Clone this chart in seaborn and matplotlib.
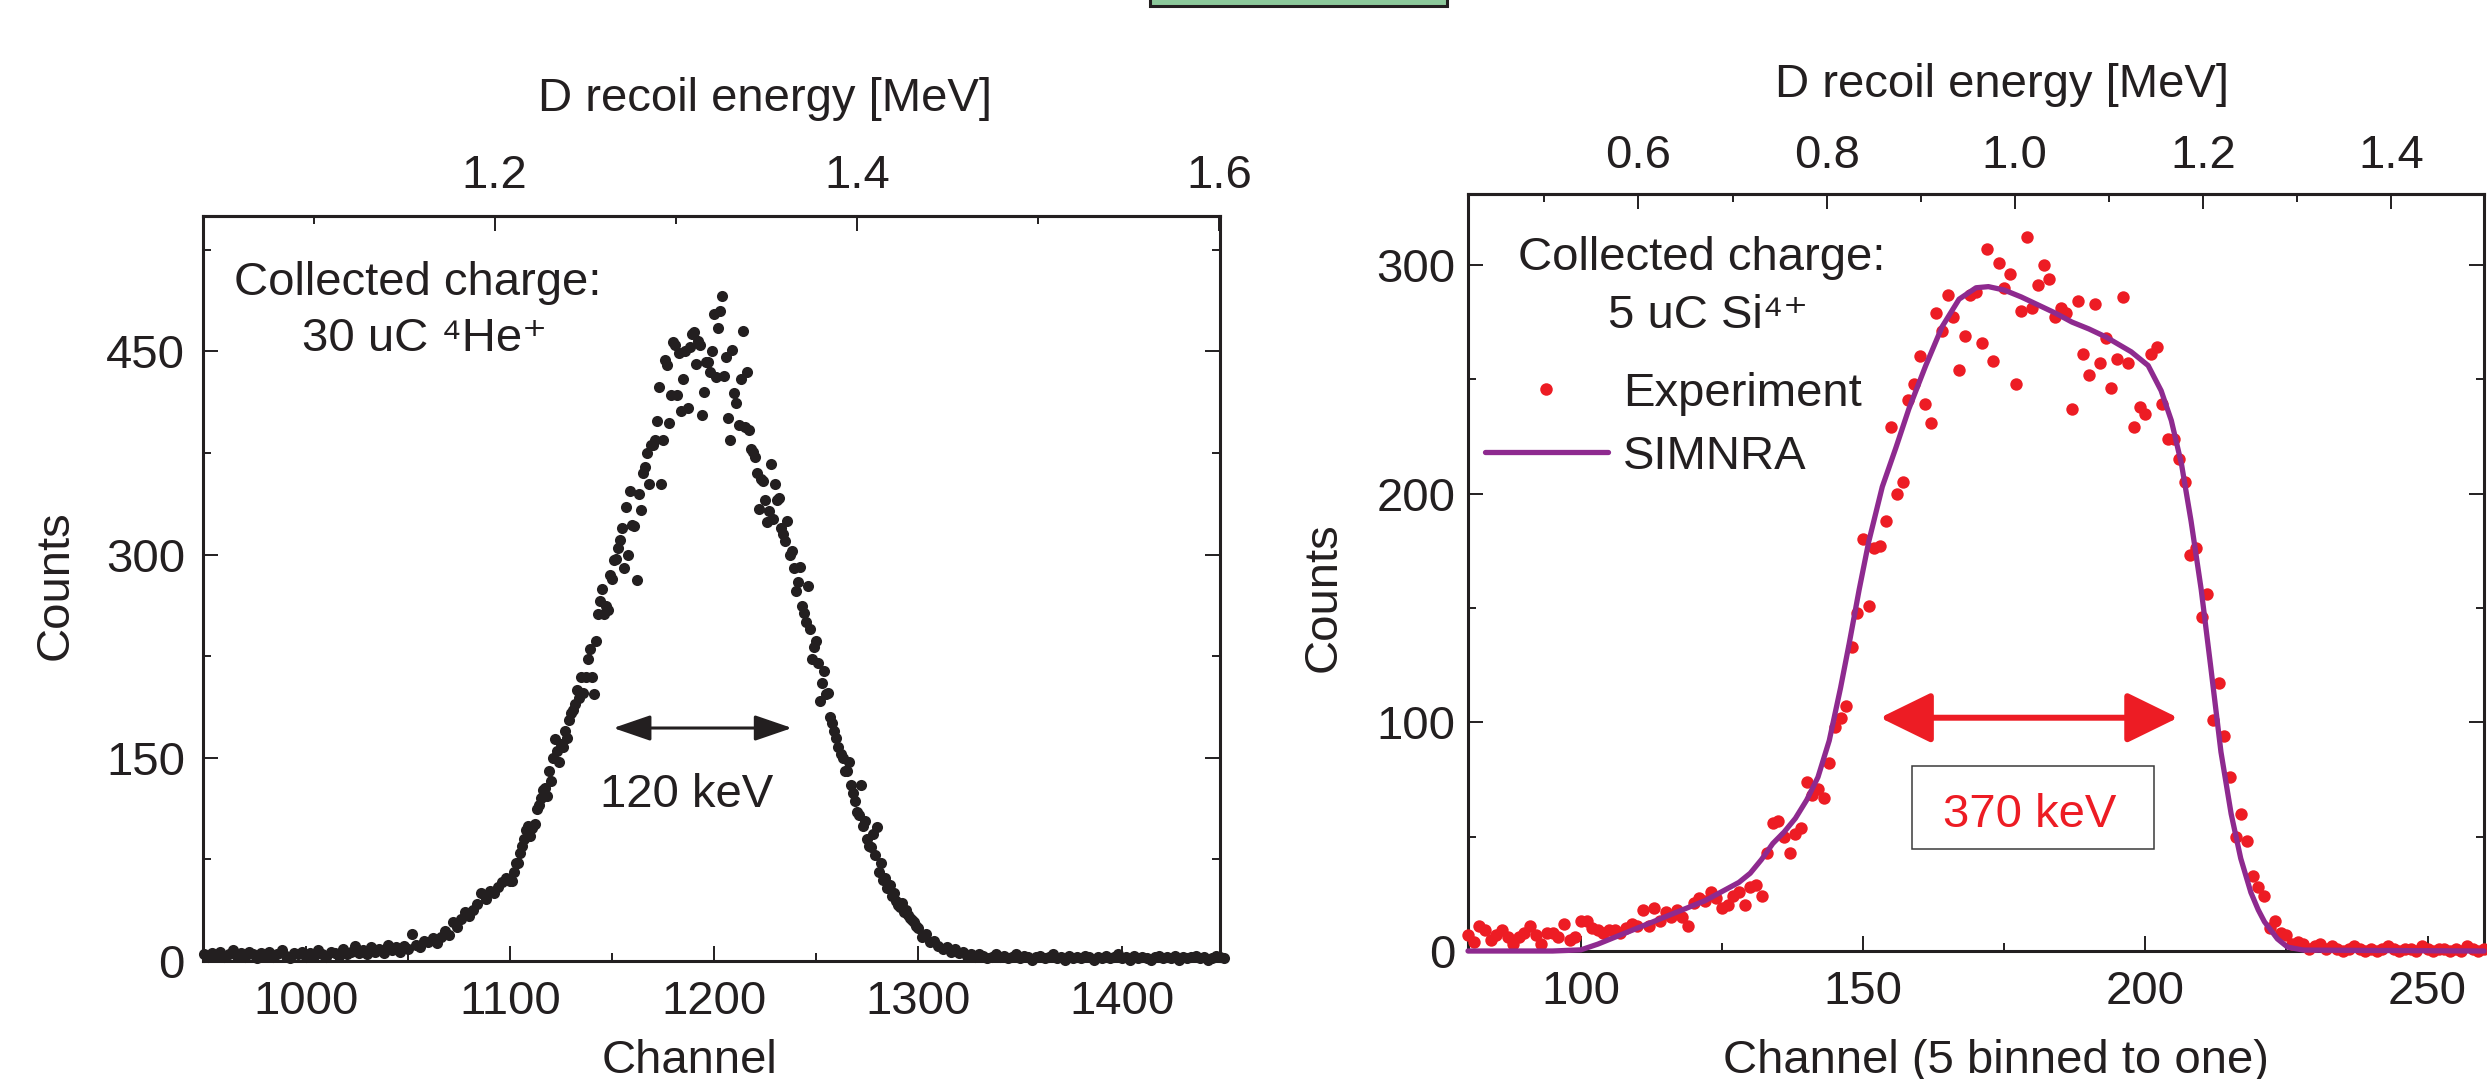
# D recoil spectra: 4He+ beam (left) vs Si4+ beam with SIMNRA fit (right)

import numpy as np
import pandas as pd
import matplotlib
matplotlib.use("Agg")
import matplotlib.pyplot as plt
from matplotlib.patches import Rectangle, FancyArrowPatch, ArrowStyle
from matplotlib.lines import Line2D
from matplotlib.ticker import MultipleLocator, FixedLocator, FormatStrFormatter
import seaborn as sns

# ---- data ----
# left panel: counts per channel (even channels 950..1450, odd channels 1101..1299)
left_ch_even = list(range(950, 1451, 2))
left_counts_even = [
    5, 3, 6, 4, 7, 3, 5, 8, 4, 6, 3, 7, 5, 2, 6, 4, 7, 3, 5, 8,
    4, 2, 6, 5, 7, 3, 6, 4, 8, 5, 3, 7, 6, 4, 9, 5, 7, 11, 6, 8,
    5, 10, 7, 9, 6, 12, 8, 10, 7, 11,
    9, 20, 12, 10, 15, 14, 17, 13, 18, 22, 19, 29, 25, 31, 36, 33, 38, 42, 50, 46,
    52, 50, 55, 58, 61,
    59, 66, 72, 85, 97, 92, 101, 115, 126, 122, 133, 164, 147, 158, 165, 183, 190, 194, 198, 223,
    210, 236, 266, 256, 259, 282, 297, 311, 290, 300, 322, 281, 333, 365, 352, 381, 399, 352, 444, 397,
    457, 418, 406, 450, 453, 464, 458, 403, 442, 435,
    478, 467, 491, 446, 385, 419, 396, 465, 435, 378, 372, 334, 354, 324, 367, 352, 342, 315, 325, 303,
    273, 291, 257, 277, 223, 236, 192, 214, 198, 176, 165, 153, 140, 147, 124, 110, 130, 103, 85, 94,
    99, 72, 61, 56, 50, 41, 43, 38, 32, 29,
    24, 18, 20, 14, 15, 11, 9, 10, 7, 9, 6, 7, 4, 5, 3, 5, 4, 2, 3, 5,
    3, 4, 2, 3, 5, 2, 4, 3, 1, 3, 4, 2, 3, 5, 2, 3, 1, 4, 2, 3,
    2, 4, 3, 1, 3, 2, 4, 2, 3, 5, 2, 3, 1, 4, 2, 3, 2, 1, 3, 4,
    2, 3, 2, 4, 1, 3, 2, 3, 4, 2, 3, 1, 2, 4, 3, 2,
]
left_ch_odd = list(range(1101, 1300, 2))
left_counts_odd = [
    59, 72, 80, 90, 100, 98, 112, 120, 128, 140,
    150, 155, 160, 170, 178, 185, 200, 210, 210, 230,
    197, 256, 275, 262, 285, 296, 305, 320, 335, 347,
    321, 345, 360, 375, 381, 385, 424, 385, 440, 418,
    455, 449, 430, 408, 463, 441, 455, 420, 442, 450,
    431, 480, 432, 401, 451, 412, 430, 394, 392, 376,
    360, 356, 340, 332, 326, 340, 320, 310, 300, 290,
    280, 262, 250, 245, 232, 220, 205, 197, 180, 170,
    158, 150, 140, 130, 118, 108, 100, 90, 84, 78,
    66, 60, 54, 48, 44, 40, 36, 34, 30, 26,
]

# right panel: experiment, channels 80..260 (5 binned to one)
right_ch = list(range(80, 261))
right_counts = [
    7, 4, 11, 9, 5, 7, 9, 6, 3, 6, 8, 11, 7, 3, 8, 8, 6, 12, 5, 6,
    13, 13, 10, 9, 8, 9, 9, 8, 10, 12, 11, 18, 11, 19, 13, 17, 15, 18, 15, 11,
    21, 23, 22, 26, 23, 19, 20, 24, 26, 20, 28, 29, 24, 43, 56, 57, 50, 43, 51, 54,
    74, 68, 71, 67, 82, 98, 102, 107, 133, 148, 180, 151, 176, 177, 188, 229, 200, 205, 241, 248,
    260, 239, 231, 279, 271, 287, 277, 254, 269, 287, 288, 266, 307, 258, 301, 290, 296, 248, 280, 312,
    281, 291, 300, 294, 277, 281, 279, 237, 284, 261, 252, 283, 257, 268, 246, 259, 286, 257, 229, 238,
    235, 261, 264, 239, 224, 224, 215, 205, 173, 176, 146, 156, 101, 117, 94, 76, 50, 60, 48, 33,
    28, 24, 10, 13, 8, 7, 3, 4, 3, 1, 2, 3, 1, 2, 1, 0, 1, 2, 1, 0,
    1, 0, 1, 2, 1, 0, 1, 1, 0, 2, 1, 0, 1, 1, 0, 1, 0, 2, 1, 0, 1,
]

# right panel: SIMNRA simulation
sim_ch = [80, 95, 100, 103, 106.5, 110, 113, 116, 119, 122,
          125, 128, 130, 132, 134, 136, 138, 140, 142, 144,
          146, 147.5, 149.3, 151, 153.4, 155.8, 158.1, 161.1, 164, 167,
          170, 172.2, 175, 178, 181, 184, 187, 190, 193, 197.5,
          200.5, 202.8, 204.6, 206.4, 208.1, 209.9, 211.6, 213.4, 215.2, 216.9,
          218.7, 220, 221.1, 223.4, 225.2, 228, 260]
sim_counts = [0, 0, 0.5, 3, 6.5, 10, 13, 16, 19, 22,
              26, 30, 34, 40, 47, 52, 58, 66, 76, 92,
              115, 134, 158, 179, 203, 220, 237, 256, 273, 285,
              290, 290.5, 289, 286, 282.5, 279, 275, 272, 268.5, 262,
              256, 245, 232, 213, 188, 158, 124, 87, 60, 40.5,
              25.6, 18, 12.8, 5.3, 1.7, 0.4, 0]

left_energy_ticks = [1.2, 1.4, 1.6]
right_energy_ticks = [0.6, 0.8, 1.0, 1.2, 1.4]

# ---- style ----
W, H, DPI = 2487, 1079, 100
FS = 34
INK = "#231f20"
RED = "#ed1c24"
PURPLE = "#8e2a8f"

sns.set_theme(style="ticks")
plt.rcParams["font.family"] = ["Liberation Sans", "DejaVu Sans"]


def fx(x):
    return x / W


def fy(y):
    return 1 - y / H


def style_axes(ax, xmaj, xmin, ymaj, ymin, ypad):
    for sp in ax.spines.values():
        sp.set_visible(True)
        sp.set_linewidth(2.2)
        sp.set_color(INK)
    ax.xaxis.set_major_locator(MultipleLocator(xmaj))
    ax.xaxis.set_minor_locator(MultipleLocator(xmin))
    ax.yaxis.set_major_locator(MultipleLocator(ymaj))
    ax.yaxis.set_minor_locator(MultipleLocator(ymin))
    ax.tick_params(which="both", direction="in", top=False, right=True,
                   color=INK, width=1.4, labelsize=FS, labelcolor=INK)
    ax.tick_params(which="major", length=11)
    ax.tick_params(which="minor", length=6)
    ax.tick_params(axis="x", pad=14)
    ax.tick_params(axis="y", pad=ypad)
    ax.grid(False)


def style_top(sec, ticks, mnr, pad):
    sec.xaxis.set_major_locator(FixedLocator(ticks))
    sec.xaxis.set_minor_locator(MultipleLocator(mnr))
    sec.xaxis.set_major_formatter(FormatStrFormatter("%.1f"))
    sec.tick_params(which="both", direction="in", color=INK, width=1.4,
                    labelsize=FS, labelcolor=INK, pad=pad)
    sec.tick_params(which="major", length=11)
    sec.tick_params(which="minor", length=6)
    sec.spines["top"].set_linewidth(2.2)
    sec.spines["top"].set_color(INK)


fig = plt.figure(figsize=(W / DPI, H / DPI), dpi=DPI)
ax1 = fig.add_axes([fx(203), fy(961), (1220 - 203) / W, (961 - 216) / H])
ax2 = fig.add_axes([fx(1468), fy(951), (2484 - 1468) / W, (951 - 194) / H])

# ---- left panel ----
left_df = pd.DataFrame({
    "channel": left_ch_even + left_ch_odd,
    "counts": left_counts_even + left_counts_odd,
})
sns.scatterplot(data=left_df, x="channel", y="counts", ax=ax1, color=INK,
                s=64, linewidth=0, legend=False, clip_on=False, zorder=3)
ax1.set_xlim(949.5, 1448)
ax1.set_ylim(0, 550)
style_axes(ax1, 100, 50, 150, 75, 13)

ax1.set_xlabel("Channel", fontsize=FS, color=INK, va="baseline", ha="center")
ax1.xaxis.set_label_coords(fx(690), fy(1073), transform=fig.transFigure)
ax1.set_ylabel("Counts", fontsize=FS, color=INK, va="center", ha="center")
ax1.yaxis.set_label_coords(fx(56), fy(585), transform=fig.transFigure)

sec1 = ax1.secondary_xaxis("top", functions=(lambda c: 1.2 + (c - 1092.5) / 887.5,
                                             lambda e: 1092.5 + (e - 1.2) * 887.5))
style_top(sec1, left_energy_ticks, 0.1, 13)
sec1.set_xlabel("D recoil energy [MeV]", fontsize=FS, color=INK, va="baseline", ha="center")
sec1.xaxis.set_label_coords(fx(765), fy(111), transform=fig.transFigure)

ax1.text(1055, 492, "Collected charge:", fontsize=FS, color=INK, ha="center", va="baseline")
ax1.text(1058, 450, "30 uC \u2074He\u207a", fontsize=FS, color=INK,
         ha="center", va="baseline")
ax1.add_patch(FancyArrowPatch((1150.6, 172), (1238.2, 172),
                              arrowstyle=ArrowStyle("<|-|>", head_length=23, head_width=7.9),
                              mutation_scale=1, lw=2.2, color=INK,
                              shrinkA=0, shrinkB=0, zorder=4))
ax1.text(1186.7, 113.7, "120 keV", fontsize=FS, color=INK, ha="center", va="baseline")

# ---- right panel ----
right_df = pd.DataFrame({"channel": right_ch, "counts": right_counts})
sns.scatterplot(data=right_df, x="channel", y="counts", ax=ax2, color=RED,
                s=80, linewidth=0, legend=False, clip_on=False, zorder=3)
sns.lineplot(x=sim_ch, y=sim_counts, ax=ax2, color=PURPLE, lw=3.8,
             estimator=None, sort=False, clip_on=False, zorder=4)
ax2.set_xlim(80, 260)
ax2.set_ylim(0, 331)
style_axes(ax2, 50, 25, 100, 50, 9)

ax2.set_xlabel("Channel (5 binned to one)", fontsize=FS, color=INK, va="baseline", ha="center")
ax2.xaxis.set_label_coords(fx(1996), fy(1073), transform=fig.transFigure)
ax2.set_ylabel("Counts", fontsize=FS, color=INK, va="center", ha="center")
ax2.yaxis.set_label_coords(fx(1324), fy(597), transform=fig.transFigure)

sec2 = ax2.secondary_xaxis("top", functions=(lambda c: 0.6 + (c - 110.2) * 0.8 / 133.3,
                                             lambda e: 110.2 + (e - 0.6) * 133.3 / 0.8))
style_top(sec2, right_energy_ticks, 0.1, 11.5)
sec2.set_xlabel("D recoil energy [MeV]", fontsize=FS, color=INK, va="baseline", ha="center")
sec2.xaxis.set_label_coords(fx(2002), fy(97), transform=fig.transFigure)

ax2.text(121.5, 297.8, "Collected charge:", fontsize=FS, color=INK, ha="center", va="baseline")
ax2.text(122.5, 272.4, "5 uC Si\u2074\u207a", fontsize=FS, color=INK,
         ha="center", va="baseline")

handles = [Line2D([], [], marker="o", ls="none", markersize=9, color=RED, markeredgewidth=0),
           Line2D([], [], color=PURPLE, lw=3.8)]
ax2.legend(handles, ["Experiment", "SIMNRA"], loc="upper left",
           bbox_to_anchor=(fx(1485), fy(372)), bbox_transform=fig.transFigure,
           frameon=False, fontsize=FS, borderpad=0, borderaxespad=0,
           handlelength=2.6, handletextpad=0.32, labelspacing=0.4, labelcolor=INK)

ax2.add_patch(FancyArrowPatch((153, 102), (205.8, 102),
                              arrowstyle=ArrowStyle("<|-|>", head_length=31.7, head_width=15.5),
                              mutation_scale=1, lw=4.3, color=RED,
                              shrinkA=0, shrinkB=0, zorder=5))
ax2.add_patch(Rectangle((158.7, 44.6), 42.9, 36.3, fill=False, ec="#3a3a3a", lw=1.1, zorder=5))
ax2.text(179.5, 54.2, "370 keV", fontsize=FS, color=RED, ha="center", va="baseline", zorder=6)

# green tab at the top edge
fig.add_artist(Rectangle((fx(1150), fy(6)), (1447 - 1150) / W, 30 / H,
                         transform=fig.transFigure, fc="#8cc99b", ec=INK, lw=2.2))

fig.savefig("out.png", dpi=DPI)
